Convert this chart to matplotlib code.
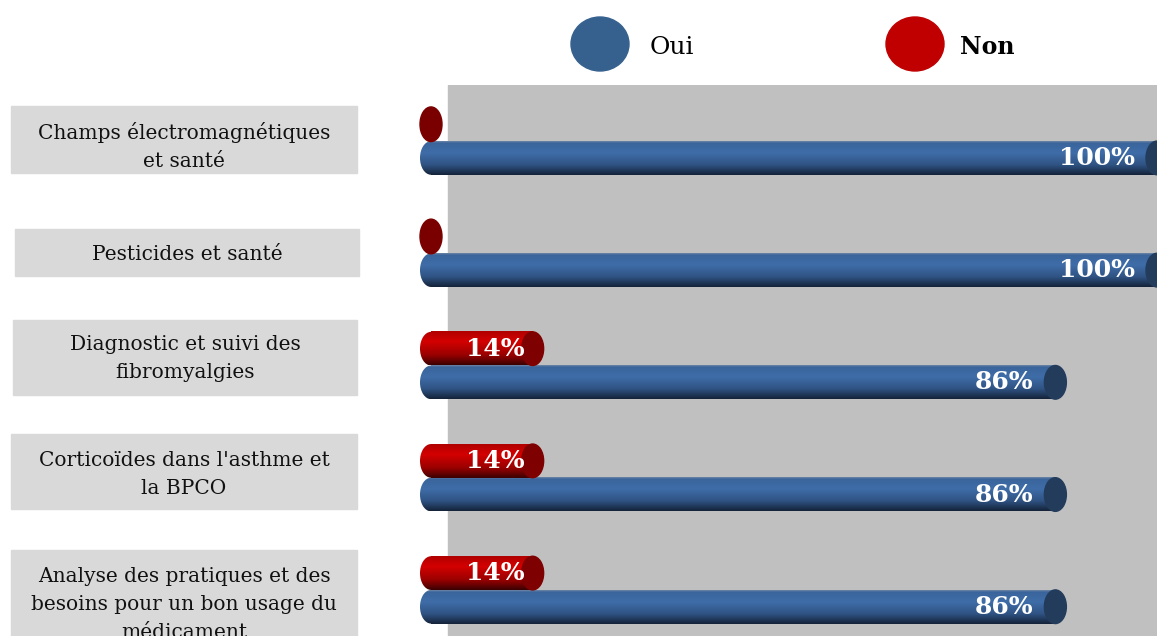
import numpy as np
import matplotlib.pyplot as plt
from matplotlib.patches import Ellipse, Rectangle
from matplotlib.colors import LinearSegmentedColormap

categories = [
    "Champs électromagnétiques\net santé",
    "Pesticides et santé",
    "Diagnostic et suivi des\nfibromyalgies",
    "Corticoïdes dans l'asthme et\nla BPCO",
    "Analyse des pratiques et des\nbesoins pour un bon usage du\nmédicament",
]
oui = [1.00, 1.00, 0.86, 0.86, 0.86]
non = [0.00, 0.00, 0.14, 0.14, 0.14]
series_names = ["Oui", "Non"]

W, H = 1157, 636
FONT = "DejaVu Serif"

blue_cmap = LinearSegmentedColormap.from_list(
    "blue", [(0, "#6f86a6"), (0.06, "#3a659c"), (0.35, "#3f6da8"),
             (0.7, "#2f5383"), (1, "#142238")])
red_cmap = LinearSegmentedColormap.from_list(
    "red", [(0, "#b00000"), (0.3, "#d40000"), (0.7, "#9a0000"), (1, "#3a0000")])


def fx(px):
    return px / W


def fy(py):
    return 1 - py / H


fig = plt.figure(figsize=(W / 100, H / 100), dpi=100)

# plot area: from x=410px to right edge, y=85px to bottom
ax = fig.add_axes([fx(410), 0, 1 - fx(410), fy(85)])
x_left = -(431 - 410) / 726
y_max = (H - 85) / 112.2
ax.add_patch(Rectangle(((448 - 431) / 726, 0), 2, y_max, color="#c0c0c0", zorder=0))

bar_h = 0.300
ew = 22 / 726
grad = np.linspace(0, 1, 256).reshape(-1, 1)


def cylinder(x1, yc, cmap, cap_color, label, offset):
    top, bot = yc - bar_h / 2, yc + bar_h / 2
    if x1 <= 0:
        ax.add_patch(Ellipse((0, yc), ew, bar_h * 1.03, color="#7a0000", zorder=3))
        return
    ax.imshow(grad, cmap=cmap, extent=[0, x1, bot, top], aspect="auto", zorder=2)
    clip = Ellipse((0, yc), ew, bar_h, facecolor="none", edgecolor="none")
    ax.add_patch(clip)
    im = ax.imshow(grad, cmap=cmap, extent=[-ew / 2, 0, bot, top], aspect="auto", zorder=2)
    im.set_clip_path(clip)
    ax.add_patch(Ellipse((x1, yc), ew, bar_h, color=cap_color, zorder=3))
    ax.annotate(label, (x1, yc), xytext=(offset, 0),
                textcoords="offset pixels", ha="right", va="center",
                color="white", fontsize=18, fontweight="bold", family=FONT, zorder=4)


for i in range(len(categories)):
    yc = i + 0.5
    cylinder(oui[i], yc + bar_h / 2, blue_cmap, "#233c5c", f"{oui[i]:.0%}", -22)
    cylinder(non[i], yc - bar_h / 2, red_cmap, "#7f0000", f"{non[i]:.0%}", -8)

ax.set_xlim(x_left, 1.0)
ax.set_ylim(y_max, 0)
ax.axis("off")

# category label boxes
boxes = [(11, 106, 357, 173), (15, 229, 359, 276), (13, 320, 357, 395),
         (11, 434, 357, 509), (11, 550, 357, 660)]
text_y = [146, 254, 359, 474, 604]
for (x0, y0, x1, y1), ty, cat in zip(boxes, text_y, categories):
    fig.add_artist(Rectangle((fx(x0), fy(y1)), fx(x1 - x0), (y1 - y0) / H,
                             transform=fig.transFigure, color="#d9d9d9", zorder=0))
    fig.text(fx((x0 + x1) / 2), fy(ty), cat, ha="center", va="center",
             fontsize=14.5, family=FONT, linespacing=1.6, color="#111111")

# legend
fig.add_artist(Ellipse((fx(600), fy(44)), 58 / W, 54 / H, transform=fig.transFigure,
                       color="#36618f"))
fig.text(fx(650), fy(47), series_names[0], ha="left", va="center", fontsize=18, family=FONT)
fig.add_artist(Ellipse((fx(915), fy(44)), 58 / W, 54 / H, transform=fig.transFigure,
                       color="#c00000"))
fig.text(fx(960), fy(47), series_names[1], ha="left", va="center", fontsize=17,
         family=FONT, fontweight="bold")

fig.savefig("out.png", dpi=100)
